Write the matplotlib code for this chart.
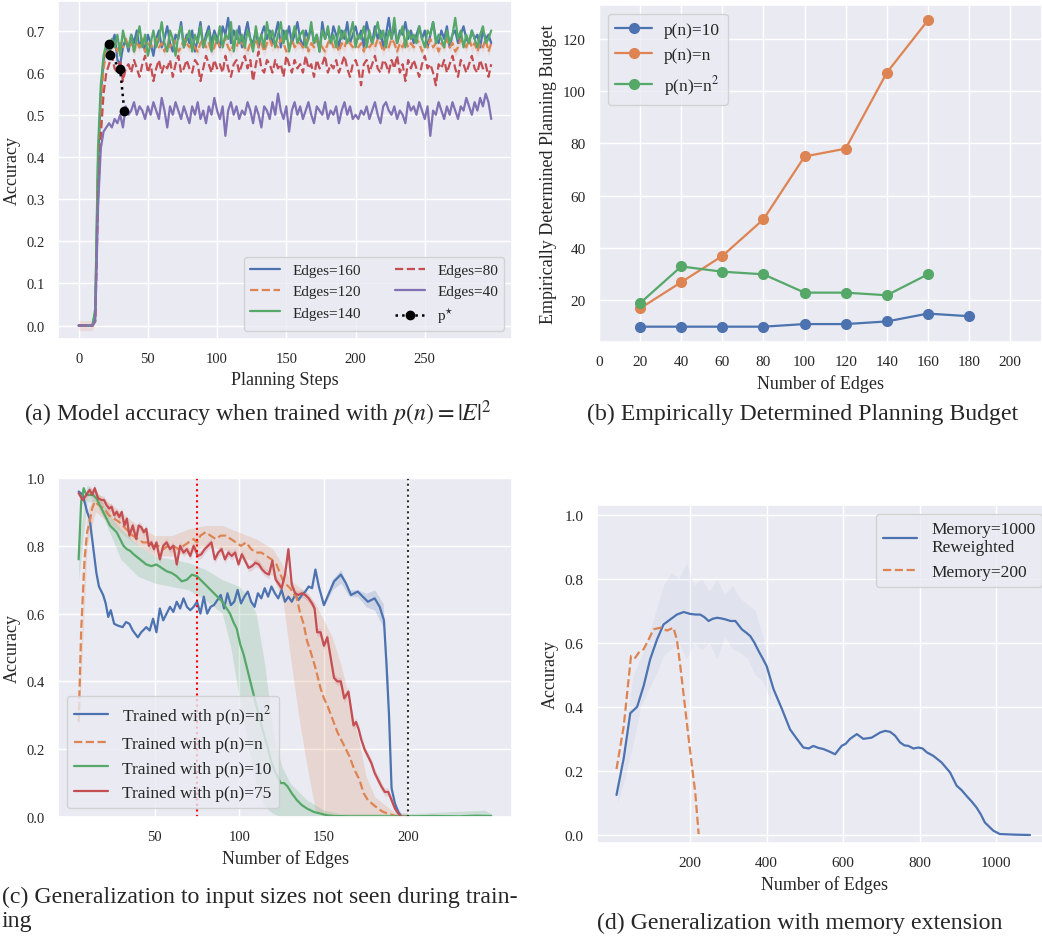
import numpy as np
import matplotlib
matplotlib.use("Agg")
import matplotlib.pyplot as plt
import seaborn as sns

# ---------------------------------------------------------------------
# (a) accuracy vs planning steps (one value every 2 steps, in percent)
# ---------------------------------------------------------------------
STEP = 2
acc_e160 = [0, 0, 0, 0, 0, 0, 3, 38, 55, 63, 66,
            64, 67, 69, 63, 62, 66, 68, 65, 69, 67,
            70, 66, 68, 65, 69, 67, 64, 68, 70, 66,
            68, 71, 67, 65, 69, 68, 72, 66, 69, 67,
            70, 65, 68, 72, 66, 69, 71, 67, 70, 68,
            66, 71, 69, 73, 67, 70, 68, 71, 66, 69,
            72, 68, 67, 70, 66, 69, 71, 68, 70, 67,
            69, 72, 66, 70, 68, 71, 67, 69, 72, 68,
            66, 70, 68, 71, 67, 69, 65, 72, 68, 70,
            67, 71, 69, 66, 70, 68, 72, 67, 69, 71,
            68, 70, 66, 72, 69, 67, 71, 68, 70, 66,
            69, 73, 68, 71, 67, 70, 69, 72, 68, 70,
            67, 69, 71, 68, 70, 66, 69, 72, 68, 67,
            70, 68, 71, 66, 69, 70, 67, 69, 71, 68,
            67, 70, 68, 69, 66, 70, 68, 69, 67]
acc_e120 = [0, 0, 0, 0, 0, 0, 2, 35, 52, 61, 65,
            65, 66, 67, 65, 67, 66, 68, 66, 67, 65,
            67, 66, 68, 65, 67, 66, 67, 68, 66, 67,
            65, 67, 66, 68, 67, 65, 66, 68, 67, 66,
            67, 66, 65, 67, 68, 66, 67, 65, 66, 68,
            66, 67, 68, 66, 65, 67, 66, 68, 67, 66,
            65, 67, 66, 68, 66, 67, 65, 67, 68, 66,
            67, 66, 68, 67, 65, 66, 68, 66, 67, 67,
            66, 68, 65, 67, 66, 68, 67, 66, 65, 67,
            68, 66, 67, 65, 67, 66, 68, 67, 66, 68,
            66, 67, 65, 68, 66, 67, 66, 68, 67, 65,
            67, 66, 68, 67, 65, 67, 66, 68, 66, 67,
            66, 68, 67, 65, 67, 66, 68, 66, 67, 65,
            67, 66, 68, 66, 67, 65, 66, 68, 67, 66,
            68, 66, 67, 65, 67, 66, 68, 65, 67]
acc_e140 = [0, 0, 0, 0, 0, 0, 4, 42, 57, 64, 67,
            65, 68, 66, 69, 64, 70, 67, 66, 69, 65,
            68, 71, 66, 69, 64, 67, 70, 66, 68, 72,
            67, 65, 70, 68, 64, 69, 71, 66, 68, 70,
            65, 69, 67, 71, 66, 68, 70, 65, 69, 67,
            71, 66, 69, 68, 72, 65, 70, 67, 69, 66,
            70, 68, 65, 71, 67, 69, 66, 72, 68, 70,
            66, 69, 72, 67, 70, 65, 68, 71, 67, 69,
            70, 66, 68, 72, 67, 69, 65, 70, 68, 71,
            67, 69, 66, 71, 68, 70, 67, 69, 72, 66,
            69, 68, 71, 66, 70, 67, 69, 72, 68, 70,
            66, 70, 68, 73, 67, 69, 71, 66, 70, 68,
            69, 67, 71, 68, 66, 70, 69, 72, 67, 69,
            68, 66, 70, 67, 69, 73, 68, 70, 66, 69,
            67, 70, 68, 66, 69, 71, 67, 68, 70]
acc_e80 = [0, 0, 0, 0, 0, 0, 1, 30, 45, 55, 60,
           62, 64, 61, 60, 63, 58, 61, 62, 60, 63,
           61, 59, 62, 64, 60, 62, 58, 61, 63, 60,
           62, 61, 63, 59, 62, 64, 60, 61, 63, 61,
           60, 63, 62, 58, 61, 64, 62, 60, 63, 61,
           62, 60, 64, 61, 59, 62, 63, 60, 62, 64,
           61, 63, 58, 62, 65, 61, 60, 63, 62, 60,
           63, 61, 62, 59, 64, 62, 60, 63, 61, 62,
           60, 64, 61, 62, 59, 63, 61, 62, 64, 60,
           62, 61, 63, 60, 62, 64, 61, 59, 62, 63,
           61, 57, 62, 63, 60, 62, 64, 61, 60, 63,
           62, 60, 63, 61, 64, 60, 62, 58, 63, 61,
           63, 61, 59, 62, 64, 61, 62, 60, 57, 62,
           61, 63, 60, 62, 64, 61, 59, 63, 62, 60,
           62, 64, 61, 60, 63, 61, 62, 59, 62]
acc_e40 = [0, 0, 0, 0, 0, 0, 1, 28, 42, 46, 47,
           48, 47, 49, 48, 50, 47, 52, 50, 51, 53,
           50, 52, 51, 49, 52, 50, 53, 51, 49, 54,
           51, 47, 52, 50, 53, 51, 49, 52, 50, 48,
           52, 50, 53, 49, 51, 48, 52, 50, 54, 51,
           49, 52, 45, 51, 53, 50, 52, 49, 51, 50,
           53, 51, 48, 52, 50, 47, 52, 51, 49, 53,
           50, 55, 51, 49, 52, 46, 51, 53, 50, 52,
           49, 51, 53, 50, 48, 52, 51, 50, 53, 49,
           51, 50, 52, 48, 51, 53, 50, 52, 49, 50,
           49, 51, 50, 52, 49, 51, 53, 50, 48, 52,
           53, 51, 50, 52, 49, 51, 50, 48, 53, 51,
           52, 50, 53, 51, 49, 52, 45, 51, 50, 53,
           51, 49, 52, 50, 53, 51, 49, 52, 51, 54,
           52, 50, 53, 51, 54, 52, 55, 53, 49]
ORANGE_CI = 0.012
pstar_steps = [22, 23, 30, 33]
pstar_acc = [0.668, 0.641, 0.609, 0.508]

# ---------------------------------------------------------------------
# (b) empirically determined planning budget
# ---------------------------------------------------------------------
budget_edges = [20, 40, 60, 80, 100, 120, 140, 160, 180]
budget_p10 = [10, 10, 10, 10, 11, 11, 12, 15, 14]
budget_pn = [17, 27, 37, 51, 75, 78, 107, 127]
budget_pn2 = [19, 33, 31, 30, 23, 23, 22, 30]

# ---------------------------------------------------------------------
# (c) generalization to unseen sizes
# ---------------------------------------------------------------------
gen_n2_x = [5, 7.5, 10, 11.5, 13, 15.5, 17, 19.5, 21, 22.5,
            24, 26, 28, 31, 33, 35, 37, 40, 42, 45,
            47, 49, 51, 53, 55, 57, 59, 61, 63, 65,
            67, 69, 71, 73, 75, 77, 79, 81, 83, 85,
            87, 89, 91, 93, 95, 97, 99, 101, 103, 105,
            107, 109, 111, 113, 115, 117, 119, 121, 123, 125,
            127, 129, 131, 133, 135, 137, 139, 141, 143, 145,
            147, 150, 153, 156, 160, 163, 166, 170, 173, 176,
            180, 183, 185.5, 187, 188.5, 190, 192, 194, 196]
gen_n2_y = [.96, .95, .90, .88, .82, .72, .68, .655, .63, .59,
            .61, .57, .565, .56, .575, .57, .55, .53, .545, .56,
            .55, .585, .545, .615, .58, .60, .62, .605, .635, .615,
            .645, .62, .61, .62, .635, .60, .65, .60, .62, .625,
            .64, .655, .615, .66, .625, .635, .67, .63, .65, .665,
            .635, .62, .66, .645, .675, .65, .68, .66, .645, .67,
            .635, .65, .635, .655, .64, .655, .665, .68, .675, .73,
            .68, .625, .66, .695, .715, .69, .655, .665, .65, .635,
            .645, .62, .58, .45, .30, .085, .04, .015, .0]
gen_n2_band_x = [150, 155, 160, 165, 170, 175, 180, 185, 188]
gen_n2_band_lo = [.62, .67, .69, .65, .65, .62, .61, .56, .35]
gen_n2_band_hi = [.63, .70, .73, .67, .67, .66, .67, .63, .40]

gen_n_x = [5, 6.5, 8.5, 10, 11.5, 13, 14.5, 17, 20, 23,
           26, 29, 31, 33, 35, 37, 40, 43, 46, 49,
           52, 55, 58, 61, 64, 67, 70, 73, 75, 77,
           80, 83, 86, 89, 92, 95, 98, 101, 104, 107,
           110, 113, 116, 119, 122, 124, 126, 128, 130, 132,
           134, 136, 138, 140, 142, 145, 148, 150, 152, 155,
           158, 160, 162, 165, 168, 171, 173.5, 176, 179.5, 182,
           185, 188, 191, 194]
gen_n_y = [.28, .55, .76, .84, .87, .91, .93, .92, .91, .89,
           .88, .87, .86, .85, .84, .83, .82, .81, .81, .80,
           .80, .79, .80, .80, .79, .80, .81, .82, .81, .83,
           .84, .83, .82, .83, .83, .82, .81, .80, .81, .79,
           .78, .78, .77, .76, .745, .72, .695, .685, .675, .66,
           .645, .60, .57, .52, .49, .44, .38, .35, .33, .29,
           .25, .23, .21, .18, .14, .11, .07, .05, .035, .025,
           .015, .01, .005, 0]
gen_n_band_x = [5, 10, 15, 20, 30, 40, 50, 60, 70, 80, 90, 100, 110, 120,
                126, 130, 135, 140, 145, 150, 155, 160, 165, 170, 175, 180,
                185, 190, 195]
gen_n_band_lo = [.25, .80, .90, .88, .84, .80, .77, .77, .78, .80, .79, .77,
                 .75, .71, .63, .48, .30, .15, .02, 0, 0, 0, 0, 0, 0, 0,
                 0, 0, 0]
gen_n_band_hi = [.32, .90, .96, .94, .90, .86, .83, .83, .85, .86, .86, .84,
                 .82, .79, .74, .70, .68, .66, .63, .58, .53, .45, .35, .24,
                 .12, .06, .04, .02, 0]

gen_10_x = [5, 6.5, 8, 9.5, 11.5, 13.5, 15.5, 17.5, 19.5, 21.5,
            23.5, 25.5, 27.5, 29.5, 31.5, 33.5, 35.5, 37.5, 40, 42.5,
            45, 48, 51, 54, 57, 60, 63, 66, 69, 72,
            75, 78, 81, 84, 87, 90, 92.5, 94.5, 96.5, 98.5,
            100.5, 102.5, 104.5, 106.5, 108.5, 110.5, 112.5, 114.5, 116.5, 118.5,
            120.5, 122.5, 124.5, 126.5, 128.5, 131, 134, 137, 140, 144,
            148, 152, 156, 165, 180, 200, 215, 230, 240, 249]
gen_10_y = [.76, .93, .97, .95, .95, .95, .94, .92, .90, .88,
            .86, .85, .84, .82, .80, .79, .785, .775, .765, .755,
            .745, .74, .745, .735, .725, .72, .71, .695, .70, .715,
            .71, .695, .68, .665, .65, .635, .615, .60, .575, .555,
            .51, .48, .44, .40, .36, .32, .28, .245, .21, .17,
            .14, .12, .10, .10, .09, .07, .05, .035, .025, .015,
            .01, .005, .003, .002, .002, .002, .003, .002, .004, .003]
gen_10_band_x = [5, 10, 15, 20, 25, 30, 40, 50, 60, 70, 80, 90, 95, 100,
                 105, 110, 115, 120, 125, 130, 140, 150, 160, 200, 245, 249]
gen_10_band_lo = [.70, .93, .93, .88, .82, .76, .71, .69, .68, .67, .64, .60,
                  .50, .35, .22, .10, .03, .01, 0, 0, 0, 0, 0, 0, 0, 0]
gen_10_band_hi = [.80, .98, .96, .92, .88, .85, .80, .77, .76, .75, .73, .70,
                  .69, .68, .65, .60, .45, .25, .15, .10, .05, .02, .01, .01,
                  .02, .01]

gen_75_x = [5, 7.5, 9.5, 11.5, 13, 14.5, 16.5, 18.5, 20, 21.5,
            23, 24.5, 26, 27.5, 29, 30.5, 32, 33.5, 35, 37,
            39, 40.5, 42, 43.5, 45, 46.5, 48, 49.5, 51, 53,
            55, 57, 59, 61, 63, 65, 67, 69, 71, 73,
            75.5, 77.5, 79.5, 81.5, 83.5, 85.5, 87.5, 89.5, 91.5, 93.5,
            95.5, 97.5, 99.5, 101.5, 103.5, 105.5, 107.5, 109.5, 111.5, 113.5,
            115.5, 117.5, 119.5, 121.5, 123, 125, 127, 129, 131, 133,
            135, 137, 139, 141, 143, 144.5, 146, 148, 150, 152,
            154, 156, 158, 160, 162, 164.5, 166, 167.5, 169, 170.5,
            172, 174, 176, 178, 180, 182, 184, 186, 188, 190,
            192, 194, 196, 198, 200]
gen_75_y = [.955, .935, .95, .965, .95, .97, .94, .935, .935, .92,
            .91, .915, .89, .90, .885, .90, .86, .88, .83, .86,
            .82, .86, .855, .84, .85, .80, .81, .79, .81, .76,
            .80, .81, .79, .80, .745, .80, .78, .79, .77, .80,
            .77, .775, .79, .80, .81, .76, .78, .79, .76, .78,
            .77, .78, .745, .775, .755, .735, .74, .75, .745, .73,
            .72, .715, .755, .70, .69, .675, .715, .79, .685, .66,
            .655, .66, .655, .645, .63, .615, .545, .545, .505, .53,
            .47, .41, .40, .40, .35, .37, .32, .27, .28, .26,
            .23, .20, .18, .16, .13, .11, .09, .074, .074, .05,
            .025, .01, .0, .0, .0]
RED_CI = 0.012

# ---------------------------------------------------------------------
# (d) generalization with memory extension
# ---------------------------------------------------------------------
mem1000_x = [7, 26, 43, 52, 61, 78, 95, 113, 130, 148,
             165, 183, 200, 215, 226, 237, 248, 259, 270, 281,
             292, 305, 318, 335, 346, 357, 368, 379, 390, 400,
             418, 440, 461, 479, 496, 510, 522, 535, 549, 565,
             579, 596, 607, 618, 636, 653, 664, 675, 686, 697,
             710, 723, 736, 749, 760, 771, 784, 797, 808, 819,
             836, 858, 880, 897, 910, 923, 936, 949, 960, 971,
             993, 1010, 1050, 1089]
mem1000_y = [.125, .24, .38, .39, .40, .465, .548, .61, .657, .673,
             .688, .696, .69, .688, .688, .68, .668, .675, .678, .676,
             .673, .668, .668, .642, .632, .621, .60, .574, .55, .527,
             .455, .393, .33, .30, .273, .27, .278, .272, .268, .26,
             .252, .278, .285, .30, .315, .30, .302, .304, .312, .32,
             .325, .322, .31, .289, .28, .278, .27, .273, .27, .258,
             .247, .226, .195, .154, .14, .122, .105, .086, .065, .039,
             .0135, .003, .001, .0]
mem1000_band_x = [10, 30, 50, 70, 90, 110, 130, 150, 170, 190, 210,
                  230, 250, 270, 290, 310, 330, 350, 370, 390, 410]
mem1000_band_lo = [.10, .18, .28, .40, .45, .50, .56, .58, .60, .55, .60,
                   .58, .60, .55, .62, .58, .57, .55, .50, .48, .42]
mem1000_band_hi = [.15, .30, .50, .55, .62, .70, .78, .82, .80, .85, .78,
                   .80, .76, .80, .75, .78, .74, .72, .70, .62, .50]
mem200_x = [7, 26, 45, 56, 65, 78, 91, 104, 122, 139, 156, 165, 174,
            187, 200, 213, 222]
mem200_y = [.206, .34, .559, .553, .569, .58, .61, .642, .647, .638, .647,
            .61, .527, .393, .258, .133, .003]

BLUE, ORANGE, GREEN, RED, PURPLE = sns.color_palette("deep")[:5]


def plot_steps(ax):
    series = [
        (acc_e160, BLUE, "-", "Edges=160"),
        (acc_e120, ORANGE, "--", "Edges=120"),
        (acc_e140, GREEN, "-", "Edges=140"),
        (acc_e80, RED, "--", "Edges=80"),
        (acc_e40, PURPLE, "-", "Edges=40"),
    ]
    for vals, color, ls, label in series:
        y = np.array(vals) / 100.0
        x = np.arange(len(y)) * STEP
        if label == "Edges=120":
            ax.fill_between(x, y - ORANGE_CI, y + ORANGE_CI, color=color,
                            alpha=0.15, lw=0)
        ax.plot(x, y, color=color, ls=ls, lw=1.6, label=label)
    ax.plot(pstar_steps, pstar_acc, ls=":", color="black", marker="o",
            markersize=6, lw=1.8, label=r"p$^{\star}$")
    ax.set_xlim(-14.9, 313)
    ax.set_ylim(-0.032, 0.77)
    ax.set_xticks([0, 50, 100, 150, 200, 250])
    ax.set_yticks(np.arange(0, 0.71, 0.1))
    ax.set_yticklabels([f"{v:.1f}" for v in np.arange(0, 0.71, 0.1)])
    ax.set_xlabel("Planning Steps", fontsize=13)
    ax.set_ylabel("Accuracy", fontsize=13)
    ax.tick_params(labelsize=10.5)
    ax.legend(loc="lower right", ncol=2, fontsize=11, columnspacing=2.2)


def plot_budget(ax):
    kw = dict(marker="o", markersize=7, lw=1.6)
    ax.plot(budget_edges[:len(budget_p10)], budget_p10, color=BLUE,
            label="p(n)=10", **kw)
    ax.plot(budget_edges[:len(budget_pn)], budget_pn, color=ORANGE,
            label="p(n)=n", **kw)
    ax.plot(budget_edges[:len(budget_pn2)], budget_pn2, color=GREEN,
            label="p(n)=n$^2$", **kw)
    ax.set_xlim(0, 215.5)
    ax.set_ylim(4.15, 132.85)
    ax.set_xticks(np.arange(0, 201, 20))
    ax.set_yticks(np.arange(20, 121, 20))
    ax.set_xlabel("Number of Edges", fontsize=13)
    ax.set_ylabel("Empirically Determined Planning Budget", fontsize=13)
    ax.tick_params(labelsize=11)
    ax.legend(loc="upper left", fontsize=12.5, labelspacing=0.55,
              handlelength=2.1, handletextpad=0.7, borderpad=0.45)


def plot_generalization(ax):
    ax.fill_between(gen_n_band_x, gen_n_band_lo, gen_n_band_hi, color=ORANGE,
                    alpha=0.2, lw=0)
    ax.fill_between(gen_10_band_x, gen_10_band_lo, gen_10_band_hi,
                    color=GREEN, alpha=0.2, lw=0)
    ax.fill_between(gen_n2_band_x, gen_n2_band_lo, gen_n2_band_hi,
                    color=BLUE, alpha=0.2, lw=0)
    y75 = np.array(gen_75_y)
    ax.fill_between(gen_75_x, np.clip(y75 - RED_CI, 0, None), y75 + RED_CI,
                    color=RED, alpha=0.15, lw=0)
    ax.plot(gen_n2_x, gen_n2_y, color=BLUE, lw=1.6,
            label="Trained with p(n)=n$^2$")
    ax.plot(gen_n_x, gen_n_y, color=ORANGE, ls="--", lw=1.6,
            label="Trained with p(n)=n")
    ax.plot(gen_10_x, gen_10_y, color=GREEN, lw=1.6,
            label="Trained with p(n)=10")
    ax.plot(gen_75_x, gen_75_y, color=RED, lw=1.6,
            label="Trained with p(n)=75")
    ax.axvline(75, color="red", ls=":", lw=1.5)
    ax.axvline(200, color="#333333", ls=":", lw=1.5)
    ax.set_xlim(-7.2, 261.2)
    ax.set_ylim(0, 1.0)
    ax.set_xticks([50, 100, 150, 200])
    ax.set_yticks(np.arange(0, 1.01, 0.2))
    ax.set_yticklabels([f"{v:.1f}" for v in np.arange(0, 1.01, 0.2)])
    ax.set_xlabel("Number of Edges", fontsize=13)
    ax.set_ylabel("Accuracy", fontsize=13)
    ax.tick_params(labelsize=10.5)
    ax.legend(loc="lower left", fontsize=12.5)


def plot_memory(ax):
    ax.fill_between(mem1000_band_x, mem1000_band_lo, mem1000_band_hi,
                    color=BLUE, alpha=0.06, lw=0)
    ax.plot(mem1000_x, mem1000_y, color=BLUE, lw=1.6,
            label="Memory=1000\nReweighted")
    ax.plot(mem200_x, mem200_y, color=ORANGE, ls="--", lw=1.6,
            label="Memory=200")
    ax.set_xlim(-44, 1144)
    ax.set_ylim(-0.025, 1.03)
    ax.set_xticks([200, 400, 600, 800, 1000])
    ax.set_yticks(np.arange(0, 1.01, 0.2))
    ax.set_yticklabels([f"{v:.1f}" for v in np.arange(0, 1.01, 0.2)])
    ax.set_xlabel("Number of Edges", fontsize=13)
    ax.set_ylabel("Accuracy", fontsize=13)
    ax.tick_params(labelsize=11)
    ax.legend(loc="upper right", fontsize=12.5)


def main():
    sns.set_theme(style="darkgrid")
    plt.rcParams["font.family"] = "serif"
    plt.rcParams["font.serif"] = ["Liberation Serif", "DejaVu Serif"]
    plt.rcParams["mathtext.fontset"] = "stix"

    W, H = 1042, 937
    fig = plt.figure(figsize=(W / 100, H / 100), dpi=100)

    def box(left, top, right, bottom):
        return [left / W, 1 - bottom / H, (right - left) / W, (bottom - top) / H]

    ax_a = fig.add_axes(box(58, 2, 512, 340))
    ax_b = fig.add_axes(box(599, 6, 1042, 343))
    ax_c = fig.add_axes(box(58, 479, 512, 818))
    ax_d = fig.add_axes(box(597, 506, 1051, 844))

    plot_steps(ax_a)
    plot_budget(ax_b)
    plot_generalization(ax_c)
    plot_memory(ax_d)

    cap = 17.2
    fig.text(258 / W, 1 - 414 / H,
             r"(a) Model accuracy when trained with $p(n)=|E|^2$",
             ha="center", va="center", fontsize=cap)
    fig.text(803 / W, 1 - 414 / H, "(b) Empirically Determined Planning Budget",
             ha="center", va="center", fontsize=cap)
    fig.text(2 / W, 1 - 897 / H,
             "(c) Generalization to input sizes not seen during train-",
             ha="left", va="center", fontsize=cap)
    fig.text(2 / W, 1 - 922 / H, "ing", ha="left", va="center", fontsize=cap)
    fig.text(800 / W, 1 - 923 / H, "(d) Generalization with memory extension",
             ha="center", va="center", fontsize=cap)

    fig.savefig("out.png", dpi=100)


if __name__ == "__main__":
    main()
